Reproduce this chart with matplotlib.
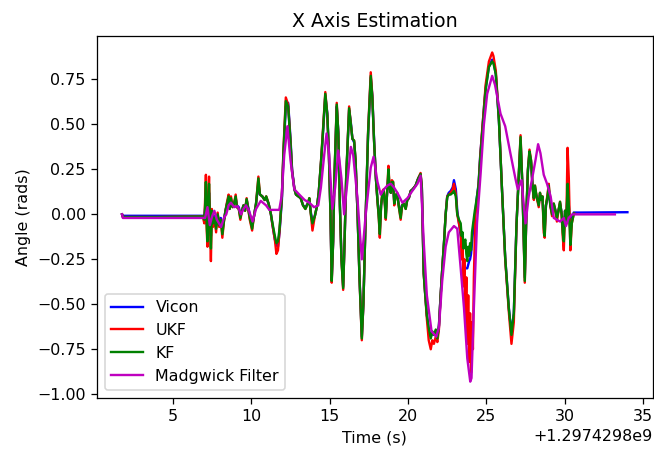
import matplotlib
matplotlib.use("Agg")
import matplotlib.pyplot as plt
import numpy as np

# Timestamps are logged as unix seconds; t_* holds seconds past this base
t0 = 1297429800.0

# Vicon / UKF / KF share the same sample times
t_track = [
    1.75, 1.8, 4.0, 6.9, 7.0, 7.05, 7.1, 7.15, 7.2, 7.25,
    7.3, 7.35, 7.42, 7.48, 7.55, 7.65, 7.75, 7.85, 7.95, 8.05,
    8.15, 8.25, 8.35, 8.45, 8.55, 8.62, 8.7, 8.8, 8.9, 9.0,
    9.08, 9.2, 9.3, 9.4, 9.5, 9.6, 9.7, 9.8, 9.9, 10.05,
    10.15, 10.3, 10.45, 10.55, 10.7, 10.85, 10.95, 11.1, 11.25, 11.35,
    11.5, 11.6, 11.7, 11.8, 11.95, 12.05, 12.2, 12.35, 12.5, 12.6,
    12.75, 12.85, 13.0, 13.15, 13.3, 13.45, 13.6, 13.7, 13.8, 13.9,
    14.05, 14.2, 14.3, 14.45, 14.55, 14.72, 14.85, 14.95, 15.05, 15.13,
    15.22, 15.3, 15.45, 15.55, 15.65, 15.75, 15.86, 15.95, 16.05, 16.24,
    16.35, 16.45, 16.56, 16.65, 16.78, 16.9, 17.05, 17.15, 17.3, 17.45,
    17.62, 17.72, 17.83, 17.95, 18.05, 18.12, 18.2, 18.28, 18.37, 18.45,
    18.52, 18.58, 18.65, 18.75, 18.82, 18.9, 18.97, 19.05, 19.12, 19.2,
    19.3, 19.4, 19.53, 19.62, 19.72, 19.85, 19.95, 20.05, 20.17, 20.3,
    20.48, 20.65, 20.8, 20.88, 21.0, 21.1, 21.2, 21.32, 21.45, 21.55,
    21.65, 21.77, 21.87, 21.97, 22.08, 22.2, 22.3, 22.4, 22.5, 22.6,
    22.72, 22.85, 22.93, 23.05, 23.14, 23.25, 23.36, 23.42, 23.48, 23.54,
    23.6, 23.66, 23.72, 23.78, 23.84, 23.9, 23.96, 24.02, 24.08, 24.14,
    24.2, 24.26, 24.3, 24.4, 24.5, 24.6, 24.73,
    24.85, 24.95, 25.16, 25.37, 25.45, 25.6, 25.8, 26.0, 26.2, 26.43,
    26.6, 26.75, 26.92, 27.07, 27.18, 27.3, 27.45, 27.55, 27.65, 27.75,
    27.85, 27.95, 28.03, 28.1, 28.2, 28.34, 28.42, 28.5, 28.58, 28.66,
    28.72, 28.8, 28.9, 28.98, 29.08, 29.19, 29.3, 29.38, 29.5, 29.6,
    29.7, 29.8, 29.87, 29.94, 30.02, 30.1, 30.18, 30.26, 30.36, 30.45,
    30.57, 30.6,
]

vicon = [
    0.0, -0.008, -0.008, -0.008, -0.01, 0.03, 0.12, -0.02, -0.10, 0.03,
    0.12, 0.0, -0.12, 0.01, -0.04, -0.01, -0.06, 0.0, -0.05, -0.02,
    -0.09, -0.03, 0.02, 0.06, 0.09, 0.04, 0.08, 0.05, 0.06, 0.09,
    0.05, 0.04, 0.0, 0.02, 0.05, 0.03, 0.08, 0.04, 0.0, -0.06,
    -0.02, 0.06, 0.17, 0.11, 0.10, 0.08, 0.09, 0.06, 0.0, -0.06,
    -0.14, -0.17, -0.18, -0.10, 0.08, 0.33, 0.60, 0.62, 0.42, 0.25,
    0.14, 0.11, 0.10, 0.09, 0.05, 0.04, 0.06, 0.08, 0.01, -0.04,
    -0.01, 0.05, 0.12, 0.29, 0.42, 0.66, 0.56, 0.34, 0.0, -0.36,
    -0.15, 0.19, 0.60, 0.46, 0.06, -0.24, -0.40, -0.15, 0.19, 0.58,
    0.51, 0.42, 0.40, 0.30, 0.0, -0.34, -0.68, -0.50, 0.0, 0.44,
    0.76, 0.66, 0.42, 0.20, 0.08, 0.02, -0.08, 0.05, 0.11, 0.12,
    0.07, 0.0, 0.10, 0.22, 0.15, 0.12, 0.16, 0.16, 0.07, 0.10,
    0.11, 0.06, 0.0, 0.05, 0.06, 0.04, 0.08, 0.09, 0.13, 0.14,
    0.16, 0.20, 0.22, 0.15, -0.32, -0.45, -0.56, -0.64, -0.68, -0.66,
    -0.67, -0.65, -0.68, -0.62, -0.45, -0.28, -0.15, 0.0, 0.10, 0.12,
    0.13, 0.15, 0.19, 0.14, 0.02, -0.05, -0.12, -0.15, -0.22, -0.28,
    -0.30, -0.30, -0.30, -0.30, -0.28, -0.26, -0.25, -0.22, -0.16, -0.10,
    -0.05, -0.01, 0.02, 0.10, 0.17, 0.32, 0.46,
    0.60, 0.70, 0.82, 0.86, 0.85, 0.78, 0.52, 0.13, -0.24, -0.52,
    -0.66, -0.55, -0.06, 0.22, 0.41, 0.15, -0.35, 0.0, 0.24, 0.34,
    0.29, 0.15, 0.09, 0.14, 0.10, 0.06, 0.11, 0.08, 0.09, -0.04,
    -0.08, 0.05, 0.09, 0.14, 0.05, 0.01, 0.05, 0.03, -0.01, 0.02,
    0.06, 0.01, -0.06, -0.10, 0.02, -0.03, 0.12, 0.05, -0.10, -0.02,
    0.01, 0.01,
]
# Vicon keeps recording after the filters stop
t_vicon_tail = [31.0, 32.5, 34.0]
vicon_tail = [0.01, 0.011, 0.012]

ukf = [
    0.0, -0.015, -0.015, -0.012, -0.05, 0.08, 0.22, -0.08, -0.18, 0.08,
    0.21, 0.0, -0.26, 0.03, -0.07, -0.02, -0.10, 0.01, -0.07, -0.03,
    -0.13, -0.04, 0.02, 0.07, 0.11, 0.03, 0.10, 0.04, 0.06, 0.11,
    0.04, 0.03, -0.03, 0.02, 0.05, 0.02, 0.09, 0.03, -0.03, -0.09,
    -0.02, 0.06, 0.21, 0.11, 0.10, 0.08, 0.10, 0.06, 0.0, -0.06,
    -0.14, -0.22, -0.20, -0.09, 0.10, 0.36, 0.65, 0.61, 0.40, 0.24,
    0.14, 0.11, 0.10, 0.09, 0.05, 0.03, 0.06, 0.09, 0.0, -0.09,
    -0.01, 0.05, 0.12, 0.30, 0.44, 0.68, 0.55, 0.33, 0.0, -0.38,
    -0.15, 0.20, 0.62, 0.45, 0.05, -0.25, -0.42, -0.15, 0.20, 0.60,
    0.50, 0.42, 0.41, 0.30, 0.0, -0.35, -0.70, -0.50, 0.0, 0.46,
    0.79, 0.66, 0.41, 0.20, 0.07, 0.0, -0.13, 0.05, 0.13, 0.14,
    0.06, -0.03, 0.10, 0.27, 0.15, 0.12, 0.19, 0.18, 0.05, 0.10,
    0.12, 0.05, -0.03, 0.05, 0.06, 0.03, 0.08, 0.09, 0.13, 0.14,
    0.16, 0.20, 0.23, 0.15, -0.33, -0.45, -0.58, -0.70, -0.75, -0.70,
    -0.72, -0.68, -0.71, -0.64, -0.45, -0.28, -0.15, 0.0, 0.10, 0.11,
    0.12, 0.14, 0.17, 0.11, 0.0, -0.05, -0.10, -0.25, -0.15, -0.40,
    -0.25, -0.58, -0.35, -0.72, -0.45, -0.82, -0.55, -0.88, -0.60, -0.75,
    -0.35, -0.15, 0.0, 0.08, 0.16, 0.31, 0.47,
    0.60, 0.72, 0.85, 0.90, 0.88, 0.80, 0.53, 0.13, -0.25, -0.54,
    -0.72, -0.60, -0.06, 0.23, 0.44, 0.15, -0.38, 0.0, 0.25, 0.36,
    0.30, 0.15, 0.08, 0.16, 0.10, 0.04, 0.12, 0.08, 0.10, -0.10,
    -0.13, 0.05, 0.11, 0.17, 0.05, -0.01, 0.06, 0.03, -0.04, 0.02,
    0.07, 0.0, -0.12, -0.20, 0.02, -0.05, 0.37, 0.20, -0.20, -0.05,
    0.0, 0.005,
]

kf = [
    0.0, -0.015, -0.015, -0.012, -0.03, 0.05, 0.18, -0.05, -0.15, 0.05,
    0.17, 0.0, -0.19, 0.02, -0.05, -0.02, -0.08, 0.0, -0.06, -0.03,
    -0.11, -0.04, 0.02, 0.06, 0.10, 0.03, 0.09, 0.04, 0.06, 0.10,
    0.04, 0.03, -0.02, 0.02, 0.05, 0.02, 0.085, 0.03, -0.02, -0.08,
    -0.02, 0.06, 0.20, 0.11, 0.10, 0.08, 0.10, 0.06, 0.0, -0.05,
    -0.12, -0.16, -0.15, -0.08, 0.10, 0.35, 0.63, 0.60, 0.40, 0.24,
    0.14, 0.11, 0.10, 0.09, 0.05, 0.03, 0.06, 0.09, 0.0, -0.05,
    -0.01, 0.05, 0.12, 0.30, 0.43, 0.67, 0.55, 0.33, 0.0, -0.37,
    -0.15, 0.20, 0.61, 0.45, 0.05, -0.25, -0.41, -0.15, 0.20, 0.59,
    0.50, 0.42, 0.41, 0.30, 0.0, -0.35, -0.69, -0.50, 0.0, 0.45,
    0.77, 0.65, 0.41, 0.20, 0.075, 0.0, -0.11, 0.05, 0.12, 0.13,
    0.06, -0.02, 0.10, 0.25, 0.15, 0.12, 0.18, 0.18, 0.06, 0.10,
    0.12, 0.05, -0.02, 0.05, 0.06, 0.03, 0.08, 0.09, 0.13, 0.14,
    0.16, 0.20, 0.225, 0.15, -0.33, -0.45, -0.56, -0.63, -0.69, -0.65,
    -0.67, -0.64, -0.69, -0.62, -0.45, -0.28, -0.15, 0.0, 0.095, 0.11,
    0.11, 0.12, 0.13, 0.10, 0.0, -0.03, -0.05, -0.12, -0.10, -0.19,
    -0.15, -0.14, -0.22, -0.26, -0.18, -0.23, -0.16, -0.20, -0.10, -0.06,
    -0.02, 0.02, 0.04, 0.10, 0.16, 0.30, 0.45,
    0.58, 0.69, 0.82, 0.85, 0.84, 0.78, 0.52, 0.13, -0.24, -0.52,
    -0.67, -0.55, -0.06, 0.23, 0.43, 0.15, -0.37, 0.0, 0.25, 0.35,
    0.30, 0.15, 0.09, 0.16, 0.10, 0.05, 0.12, 0.08, 0.10, -0.07,
    -0.12, 0.05, 0.10, 0.16, 0.05, 0.0, 0.06, 0.03, -0.02, 0.02,
    0.07, 0.0, -0.10, -0.15, 0.02, -0.05, 0.17, 0.05, -0.17, -0.05,
    0.0, 0.005,
]

t_madgwick = [
    1.75, 1.8, 6.9, 7.05, 7.2, 7.35, 7.5, 7.64, 7.8, 8.07,
    8.25, 8.4, 8.55, 8.7, 8.9, 9.13, 9.34, 9.5, 9.66, 9.85,
    10.08, 10.3, 10.6, 10.94, 11.15, 11.78, 11.93, 12.1, 12.3, 12.5,
    12.74, 13.06, 13.4, 13.7, 14.0, 14.27, 14.44, 14.65, 14.8, 14.95,
    15.17, 15.35, 15.55, 15.75, 15.92, 16.15, 16.35, 16.5, 16.77, 17.05,
    17.3, 17.62, 17.8, 18.05, 18.26, 18.47, 18.68, 18.9, 19.1, 19.32,
    19.64, 19.96, 20.27, 20.6, 20.8, 21.0, 21.2, 21.5, 21.8, 21.97,
    22.18, 22.4, 22.6, 22.93, 23.14, 23.36, 23.57, 23.78, 23.97, 24.05,
    24.2, 24.4, 24.63, 24.84, 25.05, 25.37, 25.55, 25.9, 26.2, 26.53,
    26.85, 27.0, 27.24, 27.39, 27.5, 27.7, 27.9, 28.13, 28.3, 28.45,
    28.66, 28.87, 29.1, 29.3, 29.5, 29.7, 29.94, 30.08, 30.25, 30.47,
    33.2,
]
madgwick = [
    0.0, -0.02, -0.02, -0.02, 0.04, -0.06, -0.01, 0.02, -0.03, -0.07,
    -0.02, 0.0, 0.05, 0.065, 0.04, 0.045, 0.0, 0.03, 0.05, 0.02,
    -0.04, 0.03, 0.075, 0.05, 0.025, 0.025, 0.10, 0.33, 0.49, 0.30,
    0.14, 0.11, 0.08, 0.065, 0.04, 0.05, 0.15, 0.33, 0.45, 0.35,
    0.03, 0.15, 0.355, 0.20, 0.0, 0.20, 0.375, 0.33, 0.09, -0.25,
    0.0, 0.26, 0.32, 0.18, 0.11, 0.14, 0.16, 0.17, 0.15, 0.12,
    0.065, 0.09, 0.13, 0.17, 0.215, -0.15, -0.45, -0.65, -0.68, -0.63,
    -0.37, -0.18, -0.10, -0.065, -0.08, -0.30, -0.52, -0.80, -0.93, -0.91,
    -0.52, -0.05, 0.225, 0.50, 0.67, 0.77, 0.72, 0.56, 0.49, 0.34,
    0.20, 0.14, 0.19, 0.05, -0.05, 0.10, 0.19, 0.30, 0.39, 0.34,
    0.22, 0.17, 0.10, -0.02, -0.03, -0.04, -0.02, -0.065, -0.02, 0.0,
    0.0,
]

fig, ax = plt.subplots(figsize=(654 / 114, 456 / 114), dpi=114)
fig.subplots_adjust(left=0.148, right=0.998, top=0.921, bottom=0.127)

ax.plot(t0 + np.array(t_track + t_vicon_tail), vicon + vicon_tail, color='b', label='Vicon')
ax.plot(t0 + np.array(t_track), ukf, color='r', label='UKF')
ax.plot(t0 + np.array(t_track), kf, color='g', label='KF')
ax.plot(t0 + np.array(t_madgwick), madgwick, color='m', label='Madgwick Filter')

ax.set_title('X Axis Estimation')
ax.set_xlabel('Time (s)')
ax.set_ylabel('Angle (rads)')
ax.legend(loc='lower left')

plt.savefig('out.png', dpi=114)
